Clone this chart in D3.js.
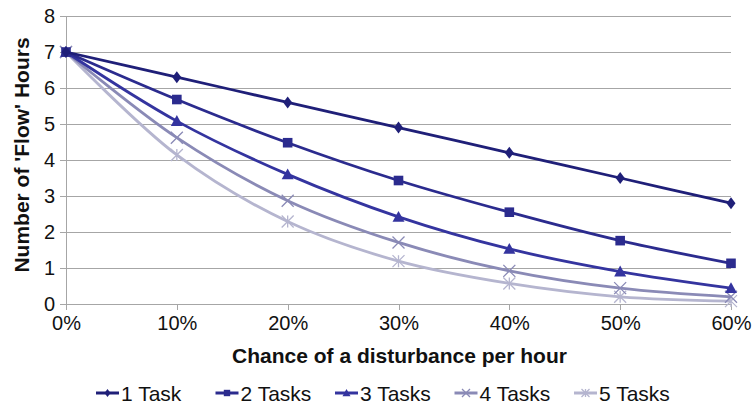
<!DOCTYPE html>
<meta charset="utf-8">
<style>
body { margin: 0; background: #fff; }
.grid line { stroke: #a6a6a6; stroke-width: 1; shape-rendering: crispEdges; }
.grid path { display: none; }
.axis path, .axis line { stroke: #a6a6a6; stroke-width: 1; shape-rendering: crispEdges; }
.axis text { font: 20px "Liberation Sans", Arial, sans-serif; fill: #111; }
.line { fill: none; stroke-width: 2.8px; }
</style>
<body>
<div id="plotHere"></div>
<script src="https://cdn.jsdelivr.net/npm/d3@7/dist/d3.min.js"></script>
<script>
//------------------------ DATA ------------------------//
const xlabel = "Chance of a disturbance per hour";
const ylabel = "Number of 'Flow' Hours";

const chances = [0, 0.1, 0.2, 0.3, 0.4, 0.5, 0.6];
const yTicks = [0, 1, 2, 3, 4, 5, 6, 7, 8];

const task1 = [7, 6.3, 5.6, 4.9, 4.2, 3.5, 2.8];
const task2 = [7, 5.68, 4.48, 3.43, 2.55, 1.76, 1.13];
const task3 = [7, 5.08, 3.6, 2.42, 1.53, 0.9, 0.44];
const task4 = [7, 4.62, 2.87, 1.71, 0.92, 0.44, 0.2];
const task5 = [7, 4.14, 2.29, 1.19, 0.57, 0.2, 0.08];

const seriesNames = ["1 Task", "2 Tasks", "3 Tasks", "4 Tasks", "5 Tasks"];
const seriesValues = [task1, task2, task3, task4, task5];
const colors = ["#1f1f78", "#2b2b8e", "#34349f", "#8a8ab6", "#b5b5cf"];
const markers = ["diamond", "square", "triangle", "x", "star"];

//------------------------ SVG ------------------------//
var margin = {top: 16, right: 21, bottom: 106, left: 66},
    width = 752 - margin.left - margin.right,
    height = 410 - margin.top - margin.bottom;

var svg = d3.select("#plotHere").append("svg")
    .attr("width", 752)
    .attr("height", 410)
  .append("g")
    .attr("transform", "translate(" + margin.left + "," + margin.top + ")");

var x = d3.scaleLinear().domain([0, 0.6]).range([0, width]);
var y = d3.scaleLinear().domain([0, 8]).range([height, 0]);

// gridlines
svg.append("g")
    .attr("class", "grid")
    .call(d3.axisLeft(y).tickValues(yTicks).tickSize(-width).tickFormat(""))
    .selectAll("line").attr("x1", -6);

// y axis
var ya = svg.append("g")
    .attr("class", "axis")
    .call(d3.axisLeft(y).tickValues(yTicks).tickSize(6).tickPadding(5).tickFormat(d3.format("d")));
ya.select(".domain").attr("d", "M0," + height + "V0");
ya.selectAll(".tick line").remove();

// x axis
var xa = svg.append("g")
    .attr("class", "axis")
    .attr("transform", "translate(0," + height + ")")
    .call(d3.axisBottom(x).tickValues(chances).tickSize(6).tickPadding(6).tickFormat(d3.format(".0%")));
xa.select(".domain").attr("d", "M-6,0H" + width);

// axis titles
svg.append("text")
    .attr("x", width / 2 + 1)
    .attr("y", height + 59)
    .style("font", "bold 21px 'Liberation Sans', Arial, sans-serif")
    .style("fill", "#111")
    .style("text-anchor", "middle")
    .text(xlabel);

svg.append("text")
    .attr("transform", "rotate(-90)")
    .attr("x", -height / 2 + 5)
    .attr("y", -37)
    .style("font", "bold 21px 'Liberation Sans', Arial, sans-serif")
    .style("fill", "#111")
    .style("text-anchor", "middle")
    .text(ylabel);

//------------------------ LINES ------------------------//
var line = d3.line()
    .x(function(d, i) { return x(chances[i]); })
    .y(function(d) { return y(d); })
    .curve(d3.curveCatmullRom.alpha(0.5));

function drawMarker(g, type, color, s) {
  if (type === "diamond") {
    g.append("path").attr("d", "M0,-" + s + "L" + (s * 0.75) + ",0L0," + s + "L-" + (s * 0.75) + ",0Z").attr("fill", color);
  } else if (type === "square") {
    g.append("rect").attr("x", -s * 0.8).attr("y", -s * 0.8).attr("width", s * 1.6).attr("height", s * 1.6).attr("fill", color);
  } else if (type === "triangle") {
    g.append("path").attr("d", "M0,-" + s + "L" + s + "," + (s * 0.8) + "L-" + s + "," + (s * 0.8) + "Z").attr("fill", color);
  } else if (type === "x") {
    g.append("path").attr("d", "M-" + s + ",-" + s + "L" + s + "," + s + "M" + s + ",-" + s + "L-" + s + "," + s)
      .attr("stroke", color).attr("stroke-width", 1.3);
  } else {
    g.append("path").attr("d", "M-" + s + ",-" + s + "L" + s + "," + s + "M" + s + ",-" + s + "L-" + s + "," + s + "M0,-" + s + "V" + s)
      .attr("stroke", color).attr("stroke-width", 1.3);
  }
}

// draw light series first so dark ones sit on top
for (var k = seriesValues.length - 1; k >= 0; k--) {
  svg.append("path")
      .datum(seriesValues[k])
      .attr("class", "line")
      .attr("stroke", colors[k])
      .attr("d", line);
  seriesValues[k].forEach(function(v, i) {
    var g = svg.append("g").attr("transform", "translate(" + x(chances[i]) + "," + y(v) + ")");
    drawMarker(g, markers[k], colors[k], 6);
  });
}

//------------------------ LEGEND ------------------------//
var legend = d3.select("svg").append("g").attr("transform", "translate(96,393)");
seriesNames.forEach(function(n, k) {
  var lg = legend.append("g").attr("transform", "translate(" + (k * 119.5) + ",0)");
  lg.append("line").attr("x1", 0).attr("x2", 23).attr("y1", 0).attr("y2", 0)
    .attr("stroke", colors[k]).attr("stroke-width", 3);
  var mg = lg.append("g").attr("transform", "translate(11.5,0)");
  drawMarker(mg, markers[k], colors[k], 4);
  lg.append("text").attr("x", 25).attr("y", 7.5)
    .style("font", "21px 'Liberation Sans', Arial, sans-serif")
    .style("fill", "#111")
    .text(n);
});
</script>
</body>
